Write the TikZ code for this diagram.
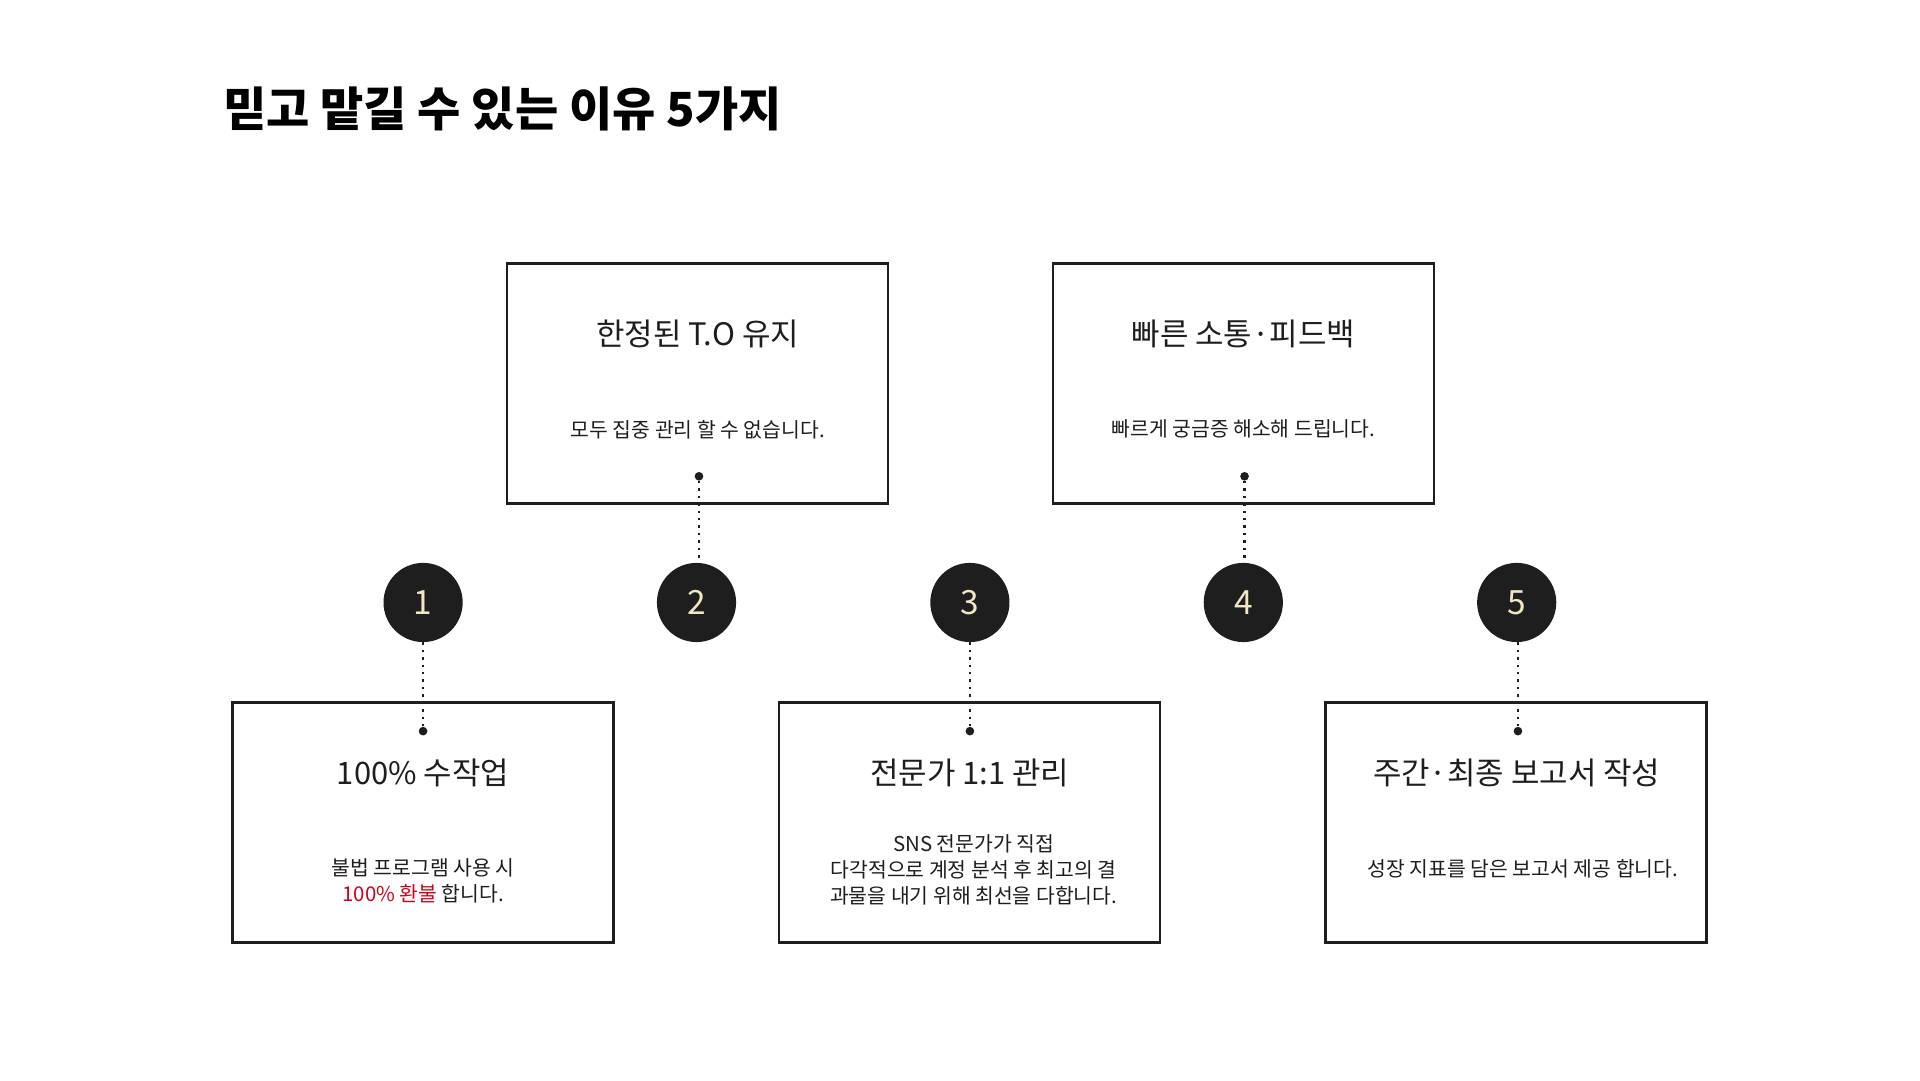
\documentclass[tikz,border=0pt]{standalone}
\usepackage{fontspec}
\setmainfont{Noto Sans CJK KR}
\definecolor{ink}{HTML}{1E1E1E}
\definecolor{cream}{HTML}{F3E6C4}
\definecolor{redt}{HTML}{D0021B}
\begin{document}
\begin{tikzpicture}[x=1pt,y=-1pt,
  box/.style={draw=ink,line width=2pt,minimum width=308pt,minimum height=194pt,inner sep=0},
  num/.style={circle,fill=ink,minimum size=64pt,inner sep=0,text=cream,font=\fontsize{27}{27}\selectfont},
  hd/.style={font=\fontsize{25}{28}\selectfont,text=ink},
  bd/.style={font=\fontsize{16.5}{21}\selectfont,text=ink,align=center},
  dots/.style={ink,line width=2pt,dash pattern=on 2pt off 4pt},
  pin/.style={circle,fill=ink,inner sep=0,minimum size=7pt}]
\useasboundingbox (0,0) rectangle (1552,873);
\fill[white] (0,0) rectangle (1552,873);
\node[anchor=west,font=\fontsize{38}{42}\selectfont\bfseries,text=black] (title) at (177,88) {믿고 맡길 수 있는 이유 5가지};
% boxes
\node[box] (b2) at (564,310) {};
\node[box] (b4) at (1005,310) {};
\node[box] (b1) at (342,665) {};
\node[box] (b3) at (783.5,665) {};
\node[box] (b5) at (1225.5,665) {};
% texts
\node[hd] (h2) at (564,270) {한정된 T.O 유지};
\node[bd] (t2) at (564,347) {모두 집중 관리 할 수 없습니다.};
\node[hd] (h4) at (1005,270) {빠른 소통·피드백};
\node[bd] (t4) at (1005,347) {빠르게 궁금증 해소해 드립니다.};
\node[hd] (h1) at (342,625) {100\% 수작업};
\node[bd] (t1) at (342,712) {불법 프로그램 사용 시\\\textcolor{redt}{100\% 환불} 합니다.};
\node[hd] (h3) at (784,625) {전문가 1:1 관리};
\node[bd] (t3) at (787,703) {SNS 전문가가 직접\\다각적으로 계정 분석 후 최고의 결\\과물을 내기 위해 최선을 다합니다.};
\node[hd] (h5) at (1226,625) {주간·최종 보고서 작성};
\node[bd] (t5) at (1231,702) {성장 지표를 담은 보고서 제공 합니다.};
% circles
\node[num] (n1) at (342,487) {1};
\node[num] (n2) at (563,487) {2};
\node[num] (n3) at (784,487) {3};
\node[num] (n4) at (1005,487) {4};
\node[num] (n5) at (1226,487) {5};
% pins
\node[pin] (p2) at (565,385) {};
\node[pin] (p4) at (1006,385) {};
\node[pin] (p1) at (342,591) {};
\node[pin] (p3) at (784,591) {};
\node[pin] (p5) at (1227,591) {};
\draw[dots] (p2) -- (p2 |- n2.north);
\draw[dots] (p4) -- (p4 |- n4.north);
\draw[dots] (n1) -- (p1);
\draw[dots] (n3) -- (p3);
\draw[dots] (p5 |- n5.south) -- (p5);
\end{tikzpicture}
\end{document}
